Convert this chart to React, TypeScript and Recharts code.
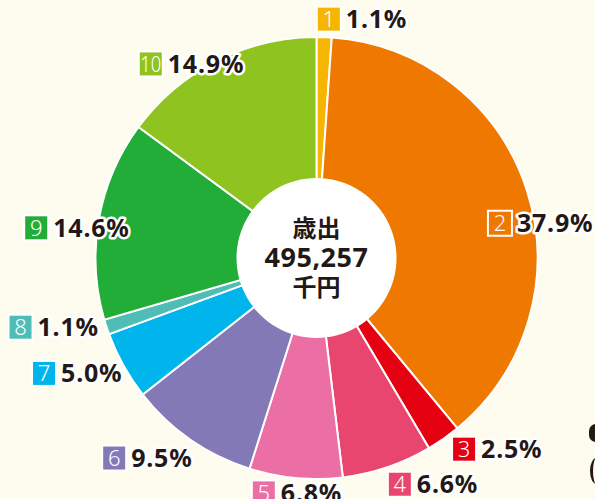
import React from 'react';
import { PieChart, Pie, Cell } from 'recharts';

const categories = ['1', '2', '3', '4', '5', '6', '7', '8', '9', '10'];
const shares = [1.1, 37.9, 2.5, 6.6, 6.8, 9.5, 5.0, 1.1, 14.6, 14.9];
const shareLabels = ['1.1%', '37.9%', '2.5%', '6.6%', '6.8%', '9.5%', '5.0%', '1.1%', '14.6%', '14.9%'];
const centerTitle = '歳出';
const totalLabel = '495,257';
const unitLabel = '千円';

const COLORS = ['#F6B500', '#EE7800', '#E50012', '#E8456F', '#EB6EA5', '#8479B7', '#00B5EC', '#4FBDB6', '#22AC38', '#8FC31F'];
const LABEL_NUDGE: number[][] = [
  [-8, 2], [-58, 39], [-3, -6], [-6, -2], [-42, -5],
  [-77, 2], [-74, -2], [-79, -6], [-55, 12], [-69, 21],
];
const BG = '#FEFCEF';
const INK = '#231815';

const data = categories.map((c, i) => ({ name: c, value: shares[i] }));
const centerData = [{ name: 'center', value: 1 }];

const renderLabel = (props: any) => {
  const { cx, cy, midAngle, outerRadius, index } = props;
  const RAD = Math.PI / 180;
  const r = outerRadius + 20;
  const x = cx + r * Math.cos(-midAngle * RAD) + LABEL_NUDGE[index][0];
  const y = cy + r * Math.sin(-midAngle * RAD) + LABEL_NUDGE[index][1];
  const two = categories[index].length > 1;
  const bw = 24;
  return (
    <g key={`lbl-${index}`}>
      <rect x={x} y={y - 12.5} width={bw} height={25} fill={COLORS[index]} stroke="#fff" strokeWidth={2} />
      <text
        x={x + bw / 2}
        y={y + 8}
        textAnchor="middle"
        fill="#fff"
        fontSize={22}
        fontFamily="'Noto Sans', sans-serif"
        fontWeight={300}
        {...(two ? { textLength: bw - 3, lengthAdjust: 'spacingAndGlyphs' } : {})}
      >
        {categories[index]}
      </text>
      <text
        x={x + bw + 5}
        y={y + 9}
        fill={INK}
        stroke="#fff"
        strokeWidth={5}
        strokeLinejoin="round"
        paintOrder="stroke"
        fontSize={25}
        fontWeight={700}
        letterSpacing={0.8}
        fontFamily="'Noto Sans', sans-serif"
      >
        {shareLabels[index]}
      </text>
    </g>
  );
};

const renderCenter = (props: any) => {
  const { cx, cy } = props;
  const common = {
    textAnchor: 'middle' as const,
    fill: INK,
    fontWeight: 700,
  };
  return (
    <g key="center-text">
      <text x={cx} y={cy - 30} dy="0.36em" fontSize={24} fontFamily="'Noto Sans CJK JP', sans-serif" {...common}>{centerTitle}</text>
      <text x={cx} y={cy - 1} dy="0.36em" fontSize={27} fontFamily="'Noto Sans', sans-serif" letterSpacing={0.5} {...common}>{totalLabel}</text>
      <text x={cx} y={cy + 29} dy="0.36em" fontSize={24} fontFamily="'Noto Sans CJK JP', sans-serif" {...common}>{unitLabel}</text>
    </g>
  );
};

export default function App() {
  return (
    <div style={{ position: 'absolute', left: 0, top: 0, width: 595, height: 499, background: BG, overflow: 'hidden' }}>
      <PieChart width={595} height={499} margin={{ top: 0, right: 0, bottom: 0, left: 0 }}>
        <Pie
          data={data}
          dataKey="value"
          nameKey="name"
          cx={316.5}
          cy={258}
          innerRadius={0}
          outerRadius={221}
          startAngle={90}
          endAngle={-270}
          stroke="#fff"
          strokeWidth={2}
          label={renderLabel}
          labelLine={false}
          isAnimationActive={false}
        >
          {data.map((d, i) => (
            <Cell key={d.name} fill={COLORS[i]} />
          ))}
        </Pie>
        <Pie
          data={centerData}
          dataKey="value"
          cx={316.5}
          cy={258}
          innerRadius={0}
          outerRadius={80}
          startAngle={90}
          endAngle={-270}
          fill="#fff"
          stroke="none"
          label={renderCenter}
          labelLine={false}
          isAnimationActive={false}
        />
      </PieChart>
      <div style={{ position: 'absolute', left: 589, top: 424, width: 14, height: 18, borderRadius: 7, background: INK }} />
      <div style={{ position: 'absolute', left: 590, top: 458, width: 10, height: 26, borderLeft: `3px solid ${INK}`, borderRadius: '50% 0 0 50%' }} />
    </div>
  );
}
